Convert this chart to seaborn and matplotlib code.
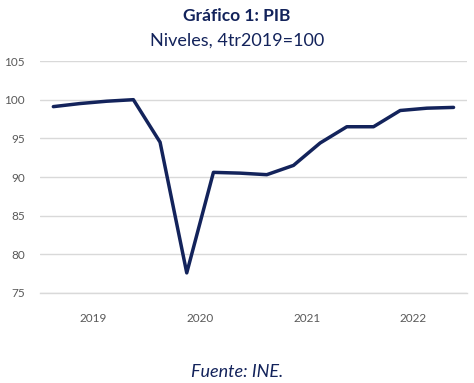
import matplotlib
matplotlib.use("Agg")
import matplotlib.pyplot as plt
import matplotlib.transforms as mtransforms
import seaborn as sns
import pandas as pd

# PIB trimestral, niveles 4tr2019=100
quarters = ['1T19', '2T19', '3T19', '4T19',
            '1T20', '2T20', '3T20', '4T20',
            '1T21', '2T21', '3T21', '4T21',
            '1T22', '2T22', '3T22', '4T22']
pib = [99.1, 99.5, 99.8, 100.0,
       94.5, 77.6, 90.6, 90.5,
       90.3, 91.5, 94.4, 96.5,
       96.5, 98.6, 98.9, 99.0]
years = ['2019', '2020', '2021', '2022']
y_ticks = [75, 80, 85, 90, 95, 100, 105]

navy = '#13235b'
grey_txt = '#595959'
grid_col = '#d9d9d9'

sns.set_style('white')
plt.rcParams['font.family'] = ['Lato', 'DejaVu Sans']

df = pd.DataFrame({'idx': range(len(quarters)), 'pib': pib})

fig = plt.figure(figsize=(4.74, 3.83), dpi=100)
ax = fig.add_axes([0.0844, 0.235, 0.9006, 0.6057])

sns.lineplot(data=df, x='idx', y='pib', ax=ax, color=navy, linewidth=2.5)

ax.set_xlim(-0.5, len(quarters) - 0.5)
ax.set_ylim(75, 105)
ax.set_yticks(y_ticks)
ax.yaxis.grid(True, color=grid_col, linewidth=1)
ax.set_axisbelow(True)
ax.tick_params(axis='y', length=0, pad=11, labelsize=8.5, labelcolor=grey_txt)

# separadores de años y marcas trimestrales
year_edges = [-0.5 + 4 * i for i in range(len(years) + 1)]
ax.set_xticks(year_edges)
ax.set_xticks([k + 0.5 for k in range(15) if (k + 1) % 4 != 0], minor=True)
ax.tick_params(axis='x', which='major', length=25, width=0.8, color=grid_col,
               labelbottom=False)
ax.tick_params(axis='x', which='minor', length=7.5, width=0.8, color=grid_col)

trans = mtransforms.blended_transform_factory(ax.transData, ax.transAxes)
for i, yr in enumerate(years):
    ax.text(4 * i + 1.5, -0.108, yr, transform=trans, ha='center', va='center',
            fontsize=8.5, color=grey_txt)

ax.set_xlabel('')
ax.set_ylabel('')
for side in ['left', 'right', 'top']:
    ax.spines[side].set_visible(False)
ax.spines['bottom'].set_color(grid_col)
ax.spines['bottom'].set_linewidth(1)

fig.text(0.5, 0.958, 'Gráfico 1: PIB', ha='center', va='center',
         fontsize=12.5, fontweight='bold', color=navy)
fig.text(0.5, 0.895, 'Niveles, 4tr2019=100', ha='center', va='center',
         fontsize=13, color=navy)
fig.text(0.5, 0.030, 'Fuente: INE.', ha='center', va='center',
         fontsize=13, fontstyle='italic', color=navy)

fig.savefig('out.png', dpi=100)
